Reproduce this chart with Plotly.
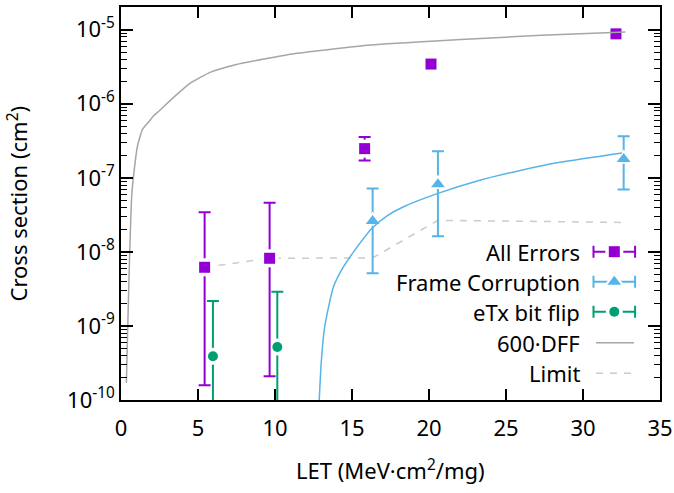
import plotly.graph_objects as go

# ---------------- data ----------------
let_all = [5.43, 9.65, 15.82, 20.13, 32.14]
xs_all = [6.2e-9, 8.2e-9, 2.48e-7, 3.44e-6, 8.8e-6]
hi_all = [3.44e-8, 4.6e-8, 3.56e-7, 3.44e-6, 8.8e-6]
lo_all = [1.58e-10, 2.1e-10, 1.71e-7, 3.44e-6, 8.8e-6]

let_fc = [16.34, 20.58, 32.64]
xs_fc = [2.62e-8, 8.2e-8, 1.80e-7]
hi_fc = [7.18e-8, 2.29e-7, 3.64e-7]
lo_fc = [5.13e-9, 1.63e-8, 6.95e-8]

let_etx = [5.97, 10.15]
xs_etx = [3.9e-10, 5.19e-10]
hi_etx = [2.17e-9, 2.89e-9]
lo_etx = [1.0e-11, 1.3e-11]

let_dff = [0.35, 0.71, 1.06, 1.41, 1.77, 2.12, 2.5, 3.43, 4.5, 5.82, 7.5, 9.4,
           11.0, 12.98, 16.0, 20.14, 24.0, 27.3, 32.75]
xs_dff = [1.7e-10, 6.3e-8, 2.63e-7, 4.57e-7, 5.6e-7, 6.9e-7, 8.1e-7, 1.23e-6,
          1.9e-6, 2.68e-6, 3.39e-6, 4.06e-6, 4.68e-6, 5.26e-6, 6.17e-6, 7.0e-6,
          7.76e-6, 8.4e-6, 9.3e-6]

let_fcfit = [12.85, 13.0, 13.2, 13.5, 13.8, 14.3, 15.1, 16.3, 17.3, 18.35, 20.58,
             23.3, 25.93, 28.5, 32.53]
xs_fcfit = [7.9e-11, 3.16e-10, 8.9e-10, 1.9e-9, 3.39e-9, 5.6e-9, 1.0e-8, 2.09e-8,
            3.09e-8, 4.07e-8, 6.17e-8, 9.3e-8, 1.26e-7, 1.62e-7, 2.17e-7]

let_lim = [5.43, 9.65, 16.34, 20.58, 32.64]
xs_lim = [6.2e-9, 8.2e-9, 8.3e-9, 2.67e-8, 2.5e-8]

x_ticks = [0, 5, 10, 15, 20, 25, 30, 35]
y_ticks = [1e-10, 1e-9, 1e-8, 1e-7, 1e-6, 1e-5]
y_ticktext = ["10<sup>-10</sup>", "10<sup>-9</sup>", "10<sup>-8</sup>",
              "10<sup>-7</sup>", "10<sup>-6</sup>", "10<sup>-5</sup>"]

legend_names = ["All Errors", "Frame Corruption", "eTx bit flip", "600·DFF", "Limit"]

# ---------------- styles ----------------
PURPLE = "#9400d3"
BLUE = "#56b4e9"
GREEN = "#009e73"
GRAY = "#a6a6a6"
LIGHT = "#cccccc"
FONT = "Noto Sans"
FS = 22

fig = go.Figure()


def add_err_series(x, y, hi, lo, color, symbol, size):
    plus = [h - v for h, v in zip(hi, y)]
    minus = [v - l for l, v in zip(lo, y)]
    fig.add_trace(go.Scatter(
        x=x, y=y, mode="markers", marker=dict(size=1, color="rgba(0,0,0,0)"),
        error_y=dict(type="data", symmetric=False, array=plus, arrayminus=minus,
                     color=color, thickness=2, width=6),
        showlegend=False, hoverinfo="skip"))
    fig.add_trace(go.Scatter(
        x=x, y=y, mode="markers",
        marker=dict(symbol=symbol, size=size + 7, color="white"),
        showlegend=False, hoverinfo="skip"))
    fig.add_trace(go.Scatter(
        x=x, y=y, mode="markers",
        marker=dict(symbol=symbol, size=size, color=color),
        showlegend=False))


# Limit line (drawn first, under the points)
fig.add_trace(go.Scatter(x=let_lim, y=xs_lim, mode="lines",
                         line=dict(color=LIGHT, width=1.5, dash="7px,7px"),
                         showlegend=False))

add_err_series(let_etx, xs_etx, hi_etx, lo_etx, GREEN, "circle", 10)
add_err_series(let_all, xs_all, hi_all, lo_all, PURPLE, "square", 11)
add_err_series(let_fc, xs_fc, hi_fc, lo_fc, BLUE, "triangle-up", 12)

fig.add_trace(go.Scatter(x=let_dff, y=xs_dff, mode="lines",
                         line=dict(color=GRAY, width=1.5, shape="spline", smoothing=0.5),
                         showlegend=False))
fig.add_trace(go.Scatter(x=let_fcfit, y=xs_fcfit, mode="lines",
                         line=dict(color=BLUE, width=1.5, shape="spline", smoothing=0.6),
                         showlegend=False))

# ---------------- custom gnuplot-style key (page-pixel overlay axes) ----------------
rows = [251.7, 281.7, 311.7, 342.7, 373.3]
key_mid = 614.3
key_half = 20.8
key_text_x = 582
err_keys = [(PURPLE, "square", 11), (BLUE, "triangle-up", 12), (GREEN, "circle", 10)]
for (col, sym, sz), ry in zip(err_keys, rows[:3]):
    fig.add_trace(go.Scatter(
        x=[key_mid], y=[ry], xaxis="x2", yaxis="y2", mode="markers",
        marker=dict(size=1, color="rgba(0,0,0,0)"),
        error_x=dict(type="constant", value=key_half, color=col, thickness=2, width=6),
        showlegend=False, hoverinfo="skip"))
    fig.add_trace(go.Scatter(
        x=[key_mid], y=[ry], xaxis="x2", yaxis="y2", mode="markers",
        marker=dict(symbol=sym, size=sz + 7, color="white"),
        showlegend=False, hoverinfo="skip"))
    fig.add_trace(go.Scatter(
        x=[key_mid], y=[ry], xaxis="x2", yaxis="y2", mode="markers",
        marker=dict(symbol=sym, size=sz, color=col),
        showlegend=False, hoverinfo="skip"))
fig.add_trace(go.Scatter(x=[596, 634], y=[rows[3], rows[3]], xaxis="x2", yaxis="y2",
                         mode="lines", line=dict(color=GRAY, width=1.5),
                         showlegend=False, hoverinfo="skip"))
fig.add_trace(go.Scatter(x=[596, 634], y=[rows[4], rows[4]], xaxis="x2", yaxis="y2",
                         mode="lines", line=dict(color=LIGHT, width=1.5, dash="7px,7px"),
                         showlegend=False, hoverinfo="skip"))

annotations = []
for name, ry in zip(legend_names, rows):
    annotations.append(dict(x=key_text_x, y=ry, xref="x2", yref="y2", text=name,
                            showarrow=False, xanchor="right", yanchor="middle",
                            font=dict(family=FONT, size=FS, color="black")))
annotations.append(dict(x=0.5, y=0, xref="paper", yref="paper", yshift=-69,
                        text="LET (MeV·cm<sup>2</sup>/mg)", showarrow=False,
                        xanchor="center", yanchor="middle",
                        font=dict(family=FONT, size=FS, color="black")))
annotations.append(dict(x=0, y=0.5, xref="paper", yref="paper", xshift=-104,
                        text="Cross section (cm<sup>2</sup>)", showarrow=False, textangle=-90,
                        xanchor="center", yanchor="middle",
                        font=dict(family=FONT, size=FS, color="black")))

minor_vals = [k * 10.0 ** e for e in range(-10, -4) for k in range(2, 10)]

fig.update_layout(
    width=674, height=493,
    margin=dict(l=121, r=14, t=7, b=93, autoexpand=False),
    paper_bgcolor="white", plot_bgcolor="white",
    font=dict(family=FONT, size=FS, color="black"),
    annotations=annotations,
    xaxis=dict(range=[0, 35], tickvals=x_ticks, ticks="inside", ticklen=11,
               tickwidth=1.5, tickcolor="black", showline=True, linecolor="black",
               linewidth=1.5, mirror="ticks", showgrid=False, zeroline=False,
               automargin=False, ticklabelstandoff=8,
               tickfont=dict(family=FONT, size=FS, color="black")),
    yaxis=dict(type="log", range=[-10, -4.693], tickvals=y_ticks, ticktext=y_ticktext,
               ticks="inside", ticklen=12, tickwidth=1.5, tickcolor="black",
               showline=True, linecolor="black", linewidth=1.5, mirror="ticks",
               showgrid=False, zeroline=False, automargin=False,
               minor=dict(tickvals=minor_vals, ticks="inside", ticklen=6,
                          tickwidth=1.2, tickcolor="black", showgrid=False),
               tickfont=dict(family=FONT, size=FS, color="black")),
    xaxis2=dict(overlaying="x", range=[121, 660], visible=False, fixedrange=True,
                automargin=False),
    yaxis2=dict(overlaying="y", anchor="x2", range=[400, 7], visible=False,
                fixedrange=True, automargin=False),
    showlegend=False,
)

fig.write_html("out.html", config={"displayModeBar": False},
               post_script="document.body.style.margin='0';document.body.style.padding='0';")
